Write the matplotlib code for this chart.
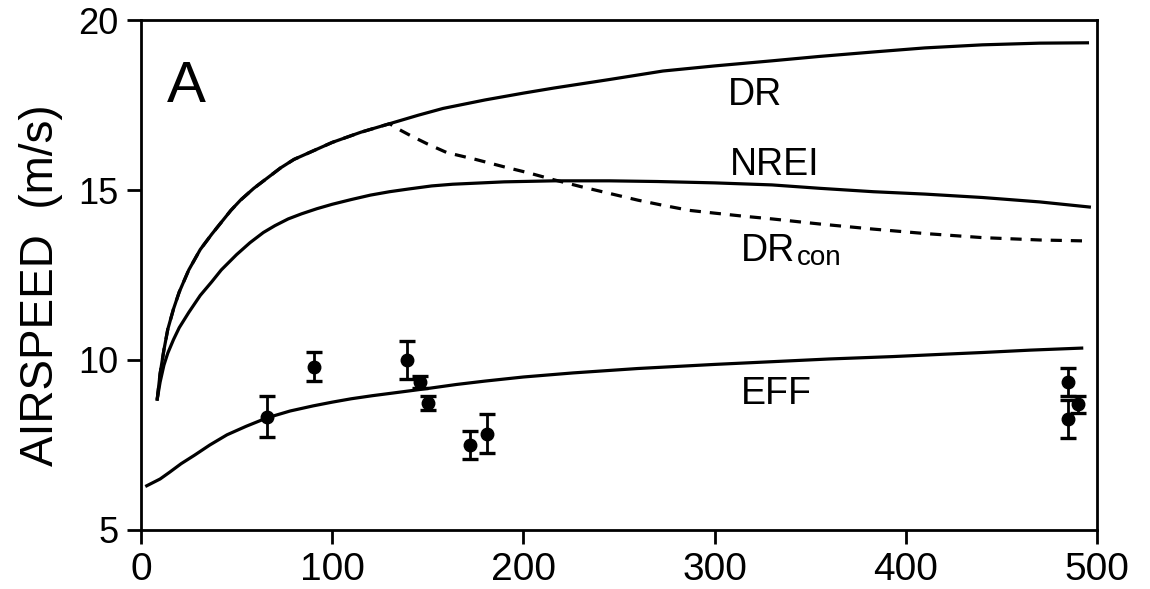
import matplotlib
matplotlib.use("Agg")
import matplotlib.pyplot as plt

plt.rcParams['font.family'] = ['Liberation Sans', 'DejaVu Sans']

# ---- data ----
dr_x = [8.5, 10, 12, 14, 17, 20, 25, 31, 37, 42, 47, 52, 59, 66, 73, 80, 90, 100, 115, 130,
        145, 158, 180, 200, 216, 245, 273, 300, 330, 355, 383, 410, 440, 470, 495]
dr_y = [8.85, 9.6, 10.3, 10.9, 11.5, 12.0, 12.65, 13.25, 13.7, 14.05, 14.4, 14.7, 15.05, 15.35,
        15.65, 15.9, 16.15, 16.4, 16.7, 16.95, 17.2, 17.4, 17.65, 17.85, 18.0, 18.25, 18.5,
        18.65, 18.8, 18.93, 19.06, 19.18, 19.27, 19.32, 19.33]

nrei_x = [8.5, 10, 12, 14, 17, 20, 25, 31, 37, 42, 50, 57, 64, 70, 77, 84, 92, 100, 110, 120,
          130, 140, 152, 163, 190, 216, 245, 270, 300, 330, 355, 383, 410, 440, 470, 496]
nrei_y = [8.85, 9.35, 9.85, 10.2, 10.6, 10.95, 11.4, 11.9, 12.3, 12.65, 13.1, 13.45, 13.75,
          13.95, 14.15, 14.3, 14.45, 14.58, 14.72, 14.85, 14.95, 15.03, 15.12, 15.17, 15.24,
          15.27, 15.27, 15.25, 15.21, 15.15, 15.05, 14.95, 14.88, 14.78, 14.65, 14.5]

drcon_x = [8.5, 10, 12, 14, 17, 20, 25, 31, 37, 42, 47, 52, 59, 66, 73, 80, 90, 100, 115, 130,
           136, 141, 150, 160, 175, 190, 203, 216, 230, 245, 260, 273, 287, 300, 315, 330,
           355, 383, 410, 440, 470, 496]
drcon_y = [8.85, 9.6, 10.3, 10.9, 11.5, 12.0, 12.65, 13.25, 13.7, 14.05, 14.4, 14.7, 15.05,
           15.35, 15.65, 15.9, 16.15, 16.4, 16.7, 16.95, 16.75, 16.6, 16.35, 16.1, 15.9, 15.68,
           15.5, 15.3, 15.1, 14.9, 14.7, 14.55, 14.4, 14.32, 14.23, 14.15, 14.0, 13.85, 13.72,
           13.6, 13.53, 13.5]

eff_x = [3, 10, 15, 21, 28, 36, 45, 55, 66, 78, 90, 100, 110, 121, 132, 151, 165, 180, 200,
         226, 260, 300, 330, 360, 393, 420, 440, 465, 492]
eff_y = [6.3, 6.5, 6.7, 6.95, 7.2, 7.5, 7.8, 8.05, 8.3, 8.5, 8.65, 8.76, 8.86, 8.95, 9.03,
         9.17, 9.28, 9.38, 9.5, 9.62, 9.75, 9.87, 9.95, 10.03, 10.1, 10.17, 10.22, 10.29, 10.35]

obs_x = [66, 90.5, 139, 146, 150, 172, 181, 485, 485, 490]
obs_y = [8.33, 9.8, 10.0, 9.35, 8.74, 7.5, 7.83, 9.35, 8.27, 8.7]
obs_err = [0.6, 0.43, 0.55, 0.18, 0.21, 0.41, 0.58, 0.42, 0.55, 0.25]

x_ticks = [0, 100, 200, 300, 400, 500]
y_ticks = [5, 10, 15, 20]

# ---- figure ----
fig = plt.figure(figsize=(11.5, 5.89), dpi=100)
ax = fig.add_axes([0.1226, 0.1002, 0.8313, 0.8658])

lw = 2.3
ax.plot(dr_x, dr_y, color='black', lw=lw)
ax.plot(nrei_x, nrei_y, color='black', lw=lw)
ax.plot(drcon_x, drcon_y, color='black', lw=lw, ls=(0, (3.5, 2.8)))
ax.plot(eff_x, eff_y, color='black', lw=lw)
ax.errorbar(obs_x, obs_y, yerr=obs_err, fmt='o', color='black', ms=9,
            elinewidth=2, capsize=6, capthick=2.4)

ax.set_xlim(0, 500)
ax.set_ylim(5, 20)
ax.set_xticks(x_ticks)
ax.set_yticks(y_ticks)
ax.tick_params(direction='out', length=10, width=2, pad=6)
ax.tick_params(axis='x', labelsize=28)
ax.tick_params(axis='y', labelsize=26)
for s in ax.spines.values():
    s.set_linewidth(2)

ax.set_ylabel('AIRSPEED  (m/s)', fontsize=33)
ax.yaxis.set_label_coords(-0.082, 0.48)

ax.text(13.6, 17.6, 'A', fontsize=42, va='baseline', ha='left')
fs = 27
ax.text(307, 17.5, 'DR', fontsize=fs, va='baseline', ha='left')
ax.text(308, 15.45, 'NREI', fontsize=fs, va='baseline', ha='left')
t = ax.text(314, 12.9, 'DR', fontsize=fs, va='baseline', ha='left')
ax.annotate('con', xy=(1.0, 0.0), xycoords=t, xytext=(1, -1),
            textcoords='offset points', fontsize=20, va='bottom', ha='left')
ax.text(314, 8.7, 'EFF', fontsize=fs, va='baseline', ha='left')

fig.savefig('out.png', dpi=100)
